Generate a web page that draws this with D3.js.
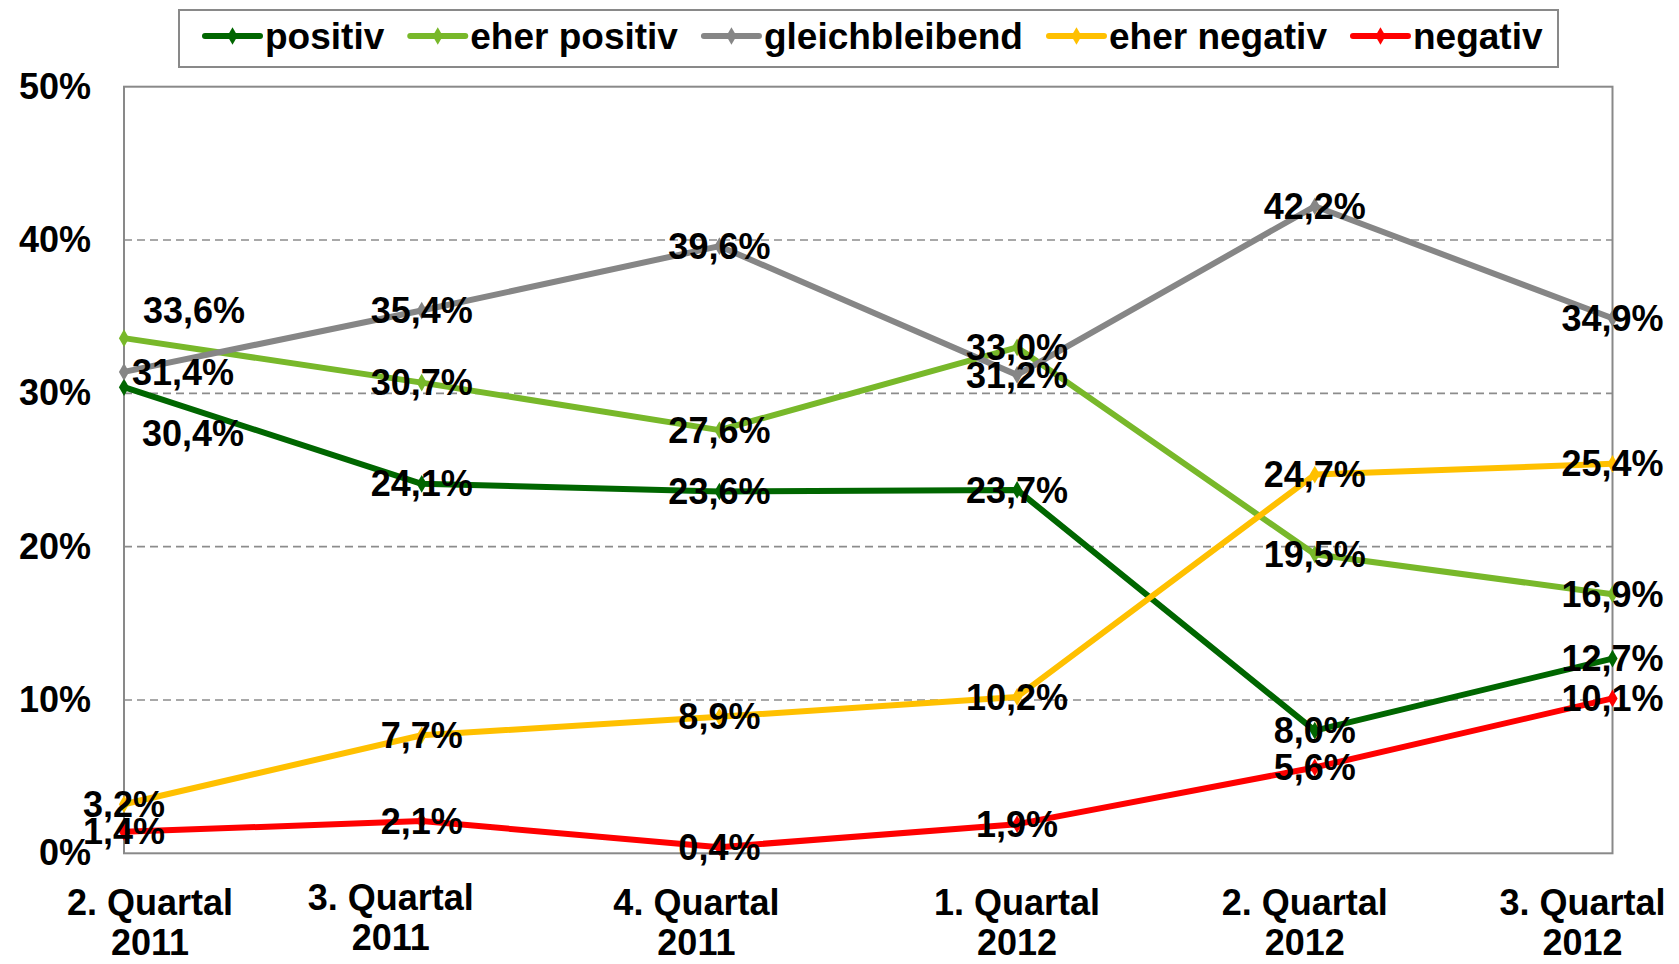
<!DOCTYPE html>
<html>
<head>
<meta charset="utf-8">
<script src="https://cdn.jsdelivr.net/npm/d3@7"></script>
<style>
  html, body { margin: 0; padding: 0; background: #fff; }
  svg { display: block; font-family: "Liberation Sans", Arial, sans-serif; font-weight: bold; }
</style>
</head>
<body>
<svg id="chart" width="1679" height="964"></svg>
<script>
// ---- data ----
const categories = [["2. Quartal", "2011"], ["3. Quartal", "2011"], ["4. Quartal", "2011"],
                    ["1. Quartal", "2012"], ["2. Quartal", "2012"], ["3. Quartal", "2012"]];
const seriesNames = ["positiv", "eher positiv", "gleichbleibend", "eher negativ", "negativ"];
const positiv       = [30.4, 24.1, 23.6, 23.7, 8.0, 12.7];
const eherPositiv   = [33.6, 30.7, 27.6, 33.0, 19.5, 16.9];
const gleichbleibend= [31.4, 35.4, 39.6, 31.2, 42.2, 34.9];
const eherNegativ   = [3.2, 7.7, 8.9, 10.2, 24.7, 25.4];
const negativ       = [1.4, 2.1, 0.4, 1.9, 5.6, 10.1];
const yTicks = [0, 10, 20, 30, 40, 50];

// ---- styles / layout (kept separate from data) ----
const colors = ["#006600", "#78B82A", "#868686", "#FFC000", "#FF0000"];
const seriesValues = [positiv, eherPositiv, gleichbleibend, eherNegativ, negativ];
// manual label nudges (Excel moved a few labels): [series][category] -> [dx, dy]
const labelNudge = {
  "0-0": [69, 46],
  "1-0": [70, -28],
  "2-0": [59, 1]
};
const xLabelDx = [26, -31, -23, 0, -10, -30];
const xLabelDy = [0, -5, 0, 0, 0, 0];

const svg = d3.select("#chart");
const plot = { left: 124, right: 1612.5, top: 86.7, bottom: 853.3 };

const x = d3.scalePoint().domain(d3.range(categories.length)).range([plot.left, plot.right]).padding(0);
const y = d3.scaleLinear().domain([0, 50]).range([plot.bottom, plot.top]);

const fmt = v => d3.format(".1f")(v).replace(".", ",") + "%";

// gridlines
svg.append("g").selectAll("line").data(yTicks.filter(t => t > 0 && t < 50)).join("line")
  .attr("x1", plot.left).attr("x2", plot.right)
  .attr("y1", d => y(d)).attr("y2", d => y(d))
  .attr("stroke", "#8c8c8c").attr("stroke-width", 1.6).attr("stroke-dasharray", "8,5");

// plot border
svg.append("rect").attr("x", plot.left).attr("y", plot.top)
  .attr("width", plot.right - plot.left).attr("height", plot.bottom - plot.top)
  .attr("fill", "none").attr("stroke", "#898989").attr("stroke-width", 2);

// y axis labels
const yAxis = d3.axisLeft(y).tickValues(yTicks).tickFormat(d => d + "%").tickSize(0).tickPadding(33);
const gy = svg.append("g").attr("transform", `translate(${plot.left},0)`).call(yAxis);
gy.select(".domain").remove();
gy.selectAll("text").attr("font-size", 36).attr("font-weight", "bold")
  .attr("font-family", '"Liberation Sans", Arial, sans-serif').attr("fill", "#000");

// x axis labels
const gx = svg.append("g");
categories.forEach((c, i) => {
  const t = gx.append("text").attr("text-anchor", "middle").attr("font-size", 36).attr("fill", "#000")
    .attr("x", x(i) + xLabelDx[i]).attr("y", 915 + xLabelDy[i]);
  t.append("tspan").attr("x", x(i) + xLabelDx[i]).text(c[0]);
  t.append("tspan").attr("x", x(i) + xLabelDx[i]).attr("dy", 40).text(c[1]);
});

// lines
const line = d3.line().x((d, i) => x(i)).y(d => y(d));
const diamond = d3.symbol().type(d3.symbolDiamond).size(90);
seriesValues.forEach((vals, s) => {
  const g = svg.append("g");
  g.append("path").datum(vals).attr("d", line).attr("fill", "none")
    .attr("stroke", colors[s]).attr("stroke-width", 6).attr("stroke-linejoin", "round");
  g.selectAll("path.m").data(vals).join("path").attr("class", "m")
    .attr("d", diamond).attr("fill", colors[s])
    .attr("transform", (d, i) => `translate(${x(i)},${y(d)})`);
});

// data labels
const gl = svg.append("g");
seriesValues.forEach((vals, s) => {
  vals.forEach((v, i) => {
    const n = labelNudge[s + "-" + i] || [0, 0];
    gl.append("text").attr("text-anchor", "middle").attr("font-size", 36).attr("fill", "#000")
      .attr("x", x(i) + n[0]).attr("y", y(v) + n[1]).attr("dy", "0.35em").text(fmt(v));
  });
});

// legend
const lg = svg.append("g");
lg.append("rect").attr("x", 179).attr("y", 10).attr("width", 1379).attr("height", 57)
  .attr("fill", "#fff").attr("stroke", "#898989").attr("stroke-width", 2);
let lx = 205;
seriesNames.forEach((name, s) => {
  lg.append("line").attr("x1", lx).attr("x2", lx + 55).attr("y1", 36).attr("y2", 36)
    .attr("stroke", colors[s]).attr("stroke-width", 6).attr("stroke-linecap", "round");
  lg.append("path").attr("d", diamond).attr("fill", colors[s]).attr("transform", `translate(${lx + 27.5},36)`);
  const t = lg.append("text").attr("x", lx + 60).attr("y", 49).attr("font-size", 37).attr("fill", "#000").text(name);
  lx = lx + 60 + t.node().getComputedTextLength() + 26;
});
</script>
</body>
</html>
